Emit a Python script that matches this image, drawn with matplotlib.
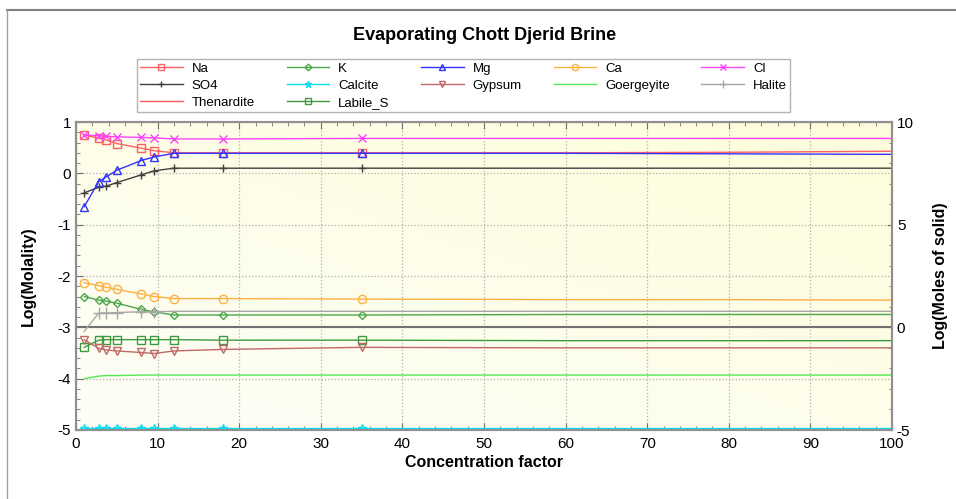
import numpy as np
import matplotlib
matplotlib.use('Agg')
import matplotlib.pyplot as plt
from matplotlib.lines import Line2D

plt.rcParams['font.family'] = ['Liberation Sans', 'DejaVu Sans']
plt.rcParams['axes.unicode_minus'] = False

# Concentration factor (markers on the first 9 points)
cf = [1, 2.8, 3.7, 5, 8, 9.6, 12, 18, 35, 60, 80, 100]
n_mark = 9

# Log(molality), left axis
na = [0.75, 0.68, 0.65, 0.58, 0.49, 0.44, 0.40, 0.40, 0.40, 0.40, 0.41, 0.43]
k = [-2.40, -2.47, -2.49, -2.53, -2.65, -2.70, -2.76, -2.76, -2.76, -2.75, -2.75, -2.75]
mg = [-0.65, -0.16, -0.07, 0.06, 0.25, 0.32, 0.39, 0.39, 0.39, 0.39, 0.38, 0.37]
ca = [-2.13, -2.19, -2.22, -2.26, -2.35, -2.40, -2.44, -2.44, -2.45, -2.46, -2.46, -2.47]
cl = [0.75, 0.73, 0.72, 0.71, 0.70, 0.69, 0.67, 0.67, 0.68, 0.68, 0.68, 0.68]
so4 = [-0.38, -0.27, -0.25, -0.18, -0.03, 0.05, 0.10, 0.10, 0.10, 0.10, 0.10, 0.10]
calcite = [-4.96] * 12
gypsum = [-3.24, -3.41, -3.44, -3.46, -3.49, -3.51, -3.46, -3.43, -3.39, -3.40, -3.40, -3.40]
goergeyite = [-4.00, -3.95, -3.94, -3.94, -3.93, -3.93, -3.93, -3.93, -3.93, -3.93, -3.93, -3.93]
labile_s = [-3.39, -3.25, -3.24, -3.24, -3.24, -3.24, -3.24, -3.25, -3.25, -3.26, -3.26, -3.26]
thenardite = [np.nan] * 12

# Log(moles of solid), right axis
halite = [-0.20, 0.70, 0.70, 0.72, 0.76, 0.76, 0.78, 0.78, 0.78, 0.78, 0.78, 0.78]

fig = plt.figure(figsize=(9.56, 4.99), dpi=100)
# window frame: top and left edges
fig.add_artist(Line2D([7 / 956, 1], [1 - 10 / 499] * 2, transform=fig.transFigure,
                      color='#808080', lw=1.5))
fig.add_artist(Line2D([7 / 956] * 2, [0, 1 - 10 / 499], transform=fig.transFigure,
                      color='#a0a0a0', lw=1.0))

ax = fig.add_axes([76 / 956, 1 - 430 / 499, 816 / 956, 308 / 499])
ax2 = ax.twinx()

# soft background gradient
gx, gy = np.meshgrid(np.linspace(0, 1, 200), np.linspace(0, 1, 100))
g = np.clip(0.5 * gx + 0.6 * (1 - gy), 0, 1)
bg = np.zeros((100, 200, 3))
bg[..., 0] = 0.995
bg[..., 1] = 0.995
bg[..., 2] = 0.97 - 0.1 * g
ax.imshow(bg, extent=[0, 1, 0, 1], transform=ax.transAxes, aspect='auto', zorder=0)

series = [
    ('Na', na, '#ff6060', 's'),
    ('SO4', so4, '#404040', '+'),
    ('Thenardite', thenardite, '#ff5a5a', None),
    ('K', k, '#4aa84a', 'D'),
    ('Calcite', calcite, '#00e0f0', '*'),
    ('Labile_S', labile_s, '#3f9a3f', 's'),
    ('Mg', mg, '#3333ff', '^'),
    ('Gypsum', gypsum, '#c06868', 'v'),
    ('Ca', ca, '#ffb040', 'o'),
    ('Goergeyite', goergeyite, '#55e855', None),
    ('Cl', cl, '#ff44ff', 'x'),
]
handles = []
for name, vals, col, mk in series:
    ms = 4.5 if mk == 'D' else 6
    h, = ax.plot(cf, vals, '-', color=col, lw=1.0, marker=mk, ms=ms,
                 mfc='none', mec=col, mew=1.0, markevery=range(n_mark), label=name, zorder=3)
    handles.append(h)

ax2.axhline(0, color='#707070', lw=1.5, zorder=2)
hh, = ax2.plot(cf, halite, '-', color='#a8a8a8', lw=1.0, marker='+', ms=8, mew=1.0,
               markevery=range(1, 6), label='Halite')
handles.append(hh)

order = ['Na', 'SO4', 'Thenardite', 'K', 'Calcite', 'Labile_S', 'Mg', 'Gypsum',
         'Ca', 'Goergeyite', 'Cl', 'Halite']
hmap = {h.get_label(): h for h in handles}
fig.legend([hmap[o] for o in order], order, ncol=5, loc='upper left',
           bbox_to_anchor=(137 / 956, 1 - 59 / 499), fontsize=9.5, frameon=True,
           fancybox=False, edgecolor='#a0a0a0', handlelength=3.2, columnspacing=2.4,
           labelspacing=0.38, borderpad=0.25, handletextpad=0.7, markerscale=0.75,
           borderaxespad=0)

ax.set_xlim(0, 100)
ax.set_ylim(-5, 1)
ax2.set_ylim(-5, 10)
ax.set_xticks(np.arange(0, 101, 10))
ax.set_xticks(np.arange(0, 101, 2), minor=True)
ax.set_yticks(np.arange(-5, 1.1, 1))
ax.set_yticks(np.arange(-5, 1.01, 0.2), minor=True)
ax2.set_yticks([-5, 0, 5, 10])
ax2.set_yticks(np.arange(-5, 10.1, 1), minor=True)
ax.grid(True, which='major', linestyle=':', color='#b0b0b0', lw=0.9)
ax.tick_params(which='both', direction='in', top=True, labelsize=11, colors='#707070',
               labelcolor='black')
ax.tick_params(axis='x', which='both', pad=5)
ax.tick_params(which='major', length=5)
ax.tick_params(which='minor', length=3)
ax2.tick_params(which='both', direction='in', labelsize=11, colors='#707070', labelcolor='black')
for a in (ax, ax2):
    for s in a.spines.values():
        s.set_color('#909090')
        s.set_linewidth(1.5)

ax.set_xlabel('Concentration factor', fontsize=11.5, fontweight='bold', labelpad=3)
ax.set_ylabel('Log(Molality)', fontsize=11.5, fontweight='bold', labelpad=16)
ax2.set_ylabel('Log(Moles of solid)', fontsize=11.5, fontweight='bold', labelpad=14)
fig.text(485 / 956, 1 - 35 / 499, 'Evaporating Chott Djerid Brine', ha='center', va='center',
         fontsize=13, fontweight='bold')

fig.savefig('out.png', dpi=100)
